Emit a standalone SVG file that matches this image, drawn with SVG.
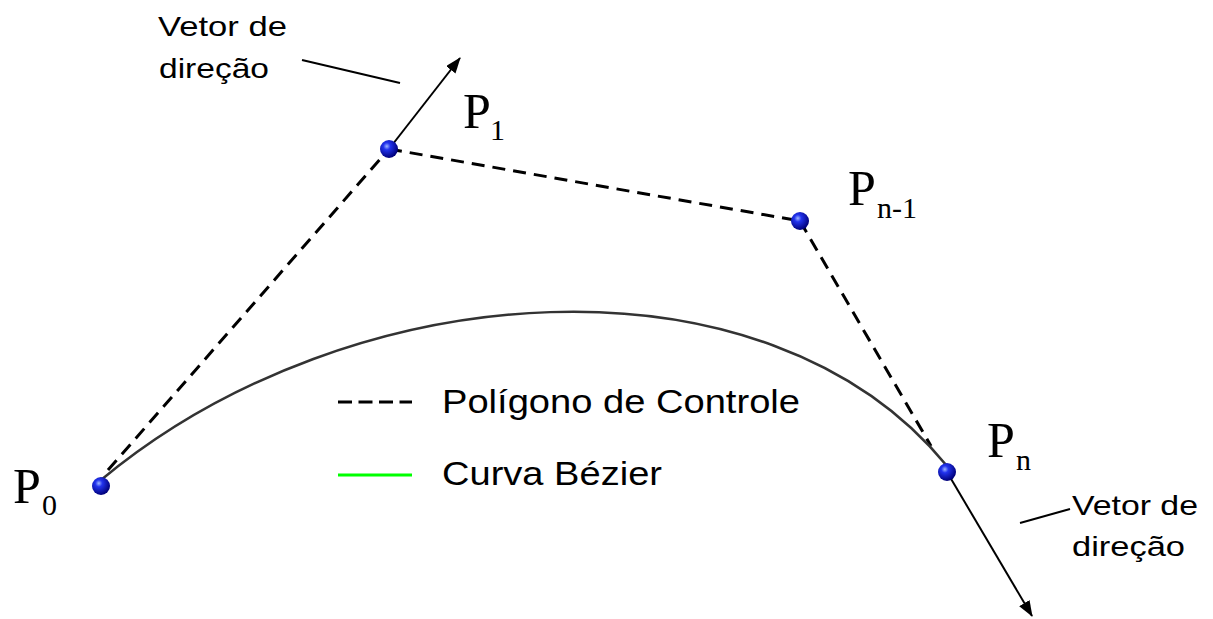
<svg xmlns="http://www.w3.org/2000/svg" width="1213" height="619" viewBox="0 0 1213 619">
<defs>
  <radialGradient id="ball" cx="0.38" cy="0.35" r="0.65">
    <stop offset="0" stop-color="#9fb6ff"/>
    <stop offset="0.3" stop-color="#2233ee"/>
    <stop offset="1" stop-color="#00007a"/>
  </radialGradient>
  <marker id="arr" viewBox="0 0 16 12" refX="15" refY="6" markerWidth="16" markerHeight="12" markerUnits="userSpaceOnUse" orient="auto">
    <path d="M0,0 L16,6 L0,12 Z" fill="#000"/>
  </marker>
  <style>
    .dash { fill: none; stroke: #000; stroke-width: 3; stroke-dasharray: 13 8; }
    .curve { fill: none; stroke: #333; stroke-width: 2.5; }
    .vec { stroke: #000; stroke-width: 2; fill: none; }
    .lead { stroke: #000; stroke-width: 2; }
    .pt { fill: url(#ball); }
    .lbl { font-family: "Liberation Serif", "Times New Roman", serif; fill: #000; }
    .P { font-size: 50px; }
    .sub { font-size: 30px; }
    .sans { font-family: "Liberation Sans", Arial, sans-serif; fill: #000; }
    .ann { font-size: 28px; }
    .leg { font-size: 34px; }
  </style>
</defs>
<rect width="1213" height="619" fill="#fff"/>
<g id="connectors">
  <line class="dash" x1="108" y1="470" x2="389" y2="149"/>
  <line class="dash" x1="389" y1="149" x2="800" y2="221"/>
  <line class="dash" x1="800" y1="221" x2="931" y2="446"/>
  <path class="curve" d="M101,480 C351,272 767,245 947,466"/>
  <line class="vec" x1="389" y1="149" x2="460" y2="58" marker-end="url(#arr)"/>
  <line class="vec" x1="947" y1="472" x2="1032" y2="616" marker-end="url(#arr)"/>
  <line class="lead" x1="302" y1="60" x2="400" y2="83"/>
  <line class="lead" x1="1020" y1="523" x2="1070" y2="509"/>
</g>
<g id="P0">
  <circle class="pt" cx="101" cy="486" r="9"/>
  <text class="lbl P" x="13" y="503">P</text>
  <text class="lbl sub" x="42" y="515">0</text>
</g>
<g id="P1">
  <circle class="pt" cx="389" cy="149" r="9"/>
  <text class="lbl P" x="463" y="128">P</text>
  <text class="lbl sub" x="490" y="140">1</text>
</g>
<g id="Pn-1">
  <circle class="pt" cx="800" cy="221" r="9"/>
  <text class="lbl P" x="848" y="205">P</text>
  <text class="lbl sub" x="877" y="218">n-1</text>
</g>
<g id="Pn">
  <circle class="pt" cx="947" cy="472" r="9"/>
  <text class="lbl P" x="987" y="457">P</text>
  <text class="lbl sub" x="1016" y="470">n</text>
</g>
<g id="label-vetor-top">
  <text class="sans ann" x="158" y="36" textLength="129" lengthAdjust="spacingAndGlyphs">Vetor de</text>
  <text class="sans ann" x="159" y="78" textLength="110" lengthAdjust="spacingAndGlyphs">direção</text>
</g>
<g id="label-vetor-bottom">
  <text class="sans ann" x="1072" y="515" textLength="126" lengthAdjust="spacingAndGlyphs">Vetor de</text>
  <text class="sans ann" x="1072" y="556" textLength="113" lengthAdjust="spacingAndGlyphs">direção</text>
</g>
<g id="legend">
  <line class="dash" x1="338" y1="402" x2="412" y2="402" style="stroke-dasharray:14 6.5"/>
  <text class="sans leg" x="442" y="413" textLength="358" lengthAdjust="spacingAndGlyphs">Polígono de Controle</text>
  <line x1="338" y1="475" x2="412" y2="475" stroke="#00ff00" stroke-width="3"/>
  <text class="sans leg" x="442" y="485" textLength="220" lengthAdjust="spacingAndGlyphs">Curva Bézier</text>
</g>
</svg>
